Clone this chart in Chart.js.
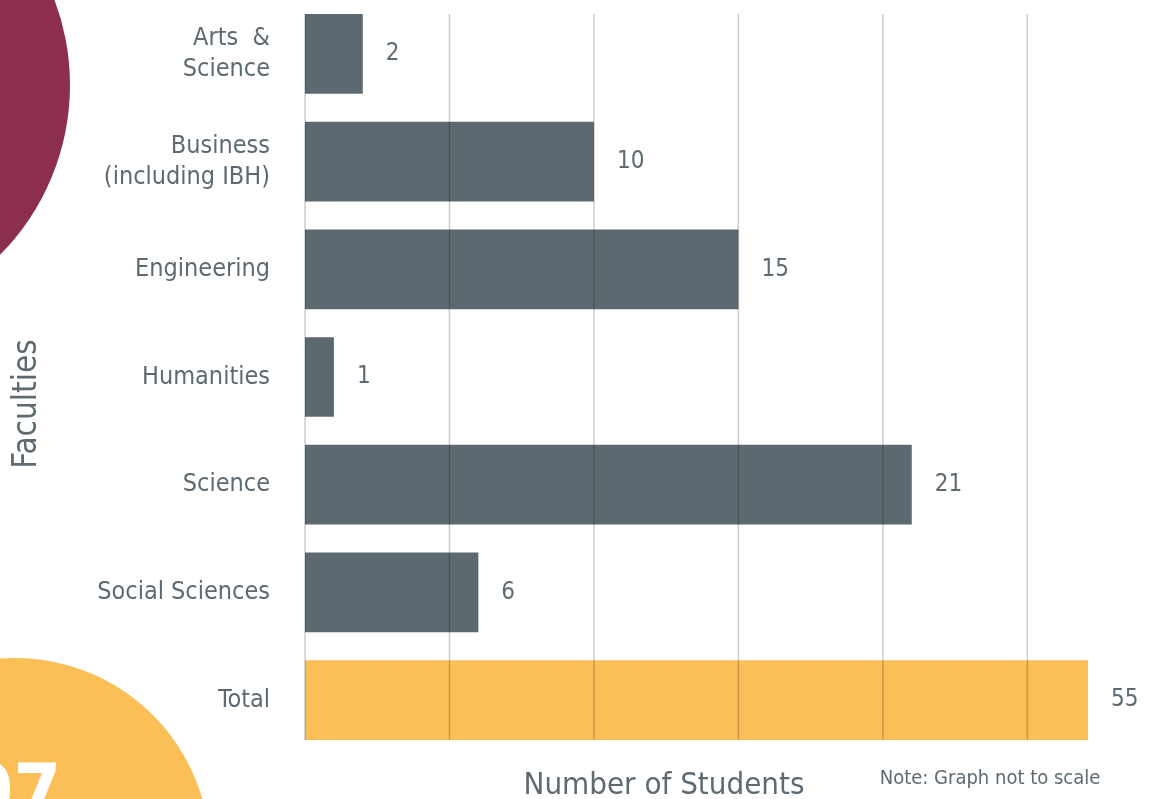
<!DOCTYPE html>
<html>
<head>
<meta charset="utf-8">
<title>Faculties - Number of Students</title>
<script src="https://cdn.jsdelivr.net/npm/chart.js@4"></script>
<style>
    html, body { margin: 0; padding: 0; background: #fff; overflow: hidden; }
    #myChart { display: block; }
</style>
</head>
<body>
<canvas id="myChart" width="1152" height="799"></canvas>
<script>
// faculties and number of students per faculty
var faculties = [['Arts  &', 'Science'], ['Business', '(including IBH)'], 'Engineering', 'Humanities', 'Science', 'Social Sciences', 'Total'];
var students = [2, 10, 15, 1, 21, 6, 55];
var barColors = ['#5d6970', '#5d6970', '#5d6970', '#5d6970', '#5d6970', '#5d6970', '#fbbf58'];
var gridStep = 5;
var axisMax = 27.1; // graph not to scale, the total bar runs off the end

var textGray = '#5d6a72';
var narrow = "'DejaVu Sans Condensed', 'Liberation Sans Narrow', sans-serif";

// circles in the corners of the page
var backdrop = {
    id: 'backdrop',
    beforeDraw(chart) {
        var ctx = chart.ctx;
        ctx.save();
        ctx.fillStyle = '#8b2f4c';
        ctx.beginPath();
        ctx.arc(-171, 85, 241, 0, Math.PI * 2);
        ctx.fill();

        ctx.fillStyle = '#fbbf58';
        ctx.beginPath();
        ctx.arc(15, 853, 195, 0, Math.PI * 2);
        ctx.fill();

        ctx.fillStyle = '#fff';
        ctx.font = 'bold 76px ' + narrow;
        ctx.textAlign = 'right';
        ctx.textBaseline = 'alphabetic';
        ctx.fillText('07', 61, 818);
        ctx.restore();
    }
};

// vertical lines on top of the bars + value at the end of each bar
var overlay = {
    id: 'overlay',
    afterDatasetsDraw(chart) {
        var ctx = chart.ctx;
        var x = chart.scales.x;
        var bars = chart.getDatasetMeta(0).data;
        var top = bars[0].y - bars[0].height / 2;
        var bottom = bars[bars.length - 1].y + bars[bars.length - 1].height / 2;

        ctx.save();
        ctx.strokeStyle = 'rgba(0, 0, 0, 0.2)';
        ctx.lineWidth = 1.5;
        x.ticks.forEach(function (t) {
            if (t.value % gridStep !== 0) return;
            var px = x.getPixelForValue(t.value);
            ctx.beginPath();
            ctx.moveTo(px, top);
            ctx.lineTo(px, bottom);
            ctx.stroke();
        });

        ctx.fillStyle = textGray;
        ctx.font = '24px ' + narrow;
        ctx.textAlign = 'left';
        ctx.textBaseline = 'middle';
        bars.forEach(function (bar, i) {
            var end = Math.min(bar.x, chart.chartArea.right);
            ctx.fillText(students[i], end + 23, bar.y);
        });
        ctx.restore();
    },
    afterDraw(chart) {
        var ctx = chart.ctx;
        ctx.save();
        ctx.fillStyle = textGray;
        ctx.textBaseline = 'alphabetic';
        ctx.textAlign = 'center';
        ctx.font = '31px ' + narrow;
        ctx.fillText('Number of Students', 664, 794);
        ctx.font = '20px ' + narrow;
        ctx.fillText('Note: Graph not to scale', 990, 784);

        // axis title for the faculties, turned on its side
        ctx.translate(27, 404);
        ctx.rotate(-Math.PI / 2);
        ctx.textBaseline = 'middle';
        ctx.font = '33px ' + narrow;
        ctx.fillText('Faculties', 0, 0);
        ctx.restore();
    }
};

var ctx = document.getElementById('myChart').getContext('2d');
var myChart = new Chart(ctx, {
    type: 'bar',
    data: {
        labels: faculties,
        datasets: [{
            data: students,
            backgroundColor: barColors,
            borderWidth: 0,
            barPercentage: 0.74,
            categoryPercentage: 1,
            clip: 0
        }]
    },
    options: {
        indexAxis: 'y',
        responsive: false,
        animation: false,
        devicePixelRatio: 1,
        layout: {
            padding: { top: 0, right: 64, bottom: 0, left: 0 }
        },
        plugins: {
            legend: { display: false },
            tooltip: { enabled: false }
        },
        scales: {
            x: {
                min: 0,
                max: axisMax,
                ticks: { display: false, stepSize: gridStep },
                grid: { display: false },
                border: { display: false },
                afterFit: function (scale) {
                    scale.height = 45;
                    scale.paddingLeft = 0;
                    scale.paddingRight = 0;
                }
            },
            y: {
                grid: { display: false, drawTicks: false },
                border: { display: false },
                ticks: {
                    color: textGray,
                    padding: 35,
                    font: { family: narrow, size: 25, lineHeight: 1.24 }
                },
                afterFit: function (scale) {
                    scale.width = 305;
                    scale.paddingTop = 0;
                    scale.paddingBottom = 0;
                }
            }
        }
    },
    plugins: [backdrop, overlay]
});
</script>
</body>
</html>
